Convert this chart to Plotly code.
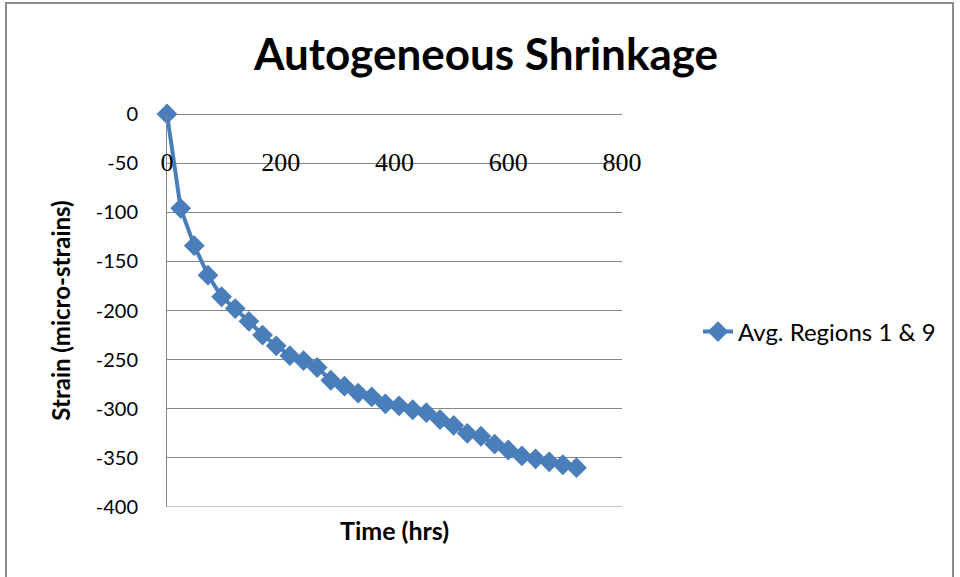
import plotly.graph_objects as go

# Autogenous shrinkage readings, averaged over regions 1 and 9
time_hrs = [0, 24, 48, 72, 96, 120, 144, 168, 192, 216, 240, 264, 288, 312, 336,
            360, 384, 408, 432, 456, 480, 504, 528, 552, 576, 600, 624, 648, 672,
            696, 720]
strain = [0, -96, -134, -164, -186, -198, -211, -225, -236, -246, -251, -258,
          -271, -277, -284, -288, -295, -297, -301, -304, -311, -317, -325, -328,
          -336, -342, -348, -351, -354, -357, -360]

series_name = "Avg. Regions 1 & 9"
x_ticks = [0, 200, 400, 600, 800]
y_ticks = [0, -50, -100, -150, -200, -250, -300, -350, -400]
y_tick_text = ["0", "-50", "-100", "-150", "-200", "-250", "-300", "-350", "-400"]

W, H = 960, 577
L, R, T, B = 167, 338, 114, 70
pw, ph = W - L - R, H - T - B

def px_x(px):
    return (px - L) / pw

def px_y(py):
    return (H - B - py) / ph

blue = "#4A7EBB"
grid = "#868686"
font = "Lato, 'Open Sans', sans-serif"

fig = go.Figure()
fig.add_trace(go.Scatter(
    x=time_hrs, y=strain, mode="lines+markers", name=series_name,
    line=dict(color=blue, width=4),
    marker=dict(symbol="diamond", size=16, color=blue),
    cliponaxis=False,
))

fig.update_layout(
    width=W, height=H,
    margin=dict(l=L, r=R, t=T, b=B),
    paper_bgcolor="white", plot_bgcolor="white",
    font=dict(family=font, color="black"),
    title=dict(text="<b>Autogeneous Shrinkage</b>", x=px_x(486), xref="paper",
               xanchor="center", y=1 - 55 / H, yanchor="middle",
               font=dict(size=44, family=font, color="black")),
    showlegend=True,
    legend=dict(x=px_x(698), y=px_y(332), xanchor="left", yanchor="middle",
                font=dict(size=24, family=font, color="black"),
                bgcolor="rgba(0,0,0,0)"),
    xaxis=dict(range=[0, 800], tickvals=x_ticks, showgrid=False, zeroline=False,
               showline=False, anchor="free", position=px_y(144),
               tickfont=dict(size=26, family="'Liberation Serif', serif", color="black")),
    yaxis=dict(range=[-400, 0], tickvals=y_ticks, ticktext=y_tick_text,
               showgrid=True, gridcolor=grid, gridwidth=1,
               zeroline=True, zerolinecolor=grid, zerolinewidth=1,
               showline=True, linecolor=grid, linewidth=1,
               ticks="", ticklabelstandoff=24,
               tickfont=dict(size=20, family=font, color="black"),
               title=dict(text="<b>Strain (micro-strains)</b>", standoff=18,
                          font=dict(size=24, family=font))),
)

fig.add_annotation(text="<b>Time (hrs)</b>", xref="paper", yref="paper",
                   x=px_x(394), y=px_y(530), xanchor="center", yanchor="middle",
                   showarrow=False, font=dict(size=25, family=font, color="black"))

# bottom gridline at -400 and the outer chart frame
fig.add_shape(type="line", xref="paper", yref="y", x0=0, x1=1, y0=-400, y1=-400,
              line=dict(color=grid, width=1), layer="below")
fig.add_shape(type="rect", xref="paper", yref="paper",
              x0=px_x(6), x1=px_x(953), y0=px_y(3), y1=px_y(600),
              line=dict(color="#8C8C8C", width=2), fillcolor="rgba(0,0,0,0)")

fig.write_html("out.html")
